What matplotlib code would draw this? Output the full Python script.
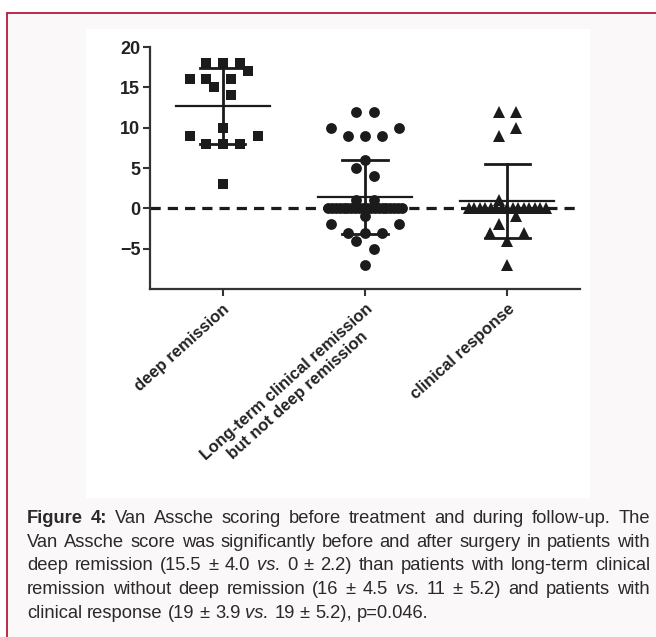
import numpy as np
import matplotlib
matplotlib.use("Agg")
import matplotlib.pyplot as plt
from matplotlib.patches import Rectangle

plt.rcParams['font.family'] = ['Liberation Sans', 'DejaVu Sans']

W, H = 656, 637

# --- data ---
categories = ['deep remission',
              'Long-term clinical remission\nbut not deep remission',
              'clinical response']

deep_vals = [18, 18, 18, 17, 16, 16, 16, 15, 14, 10, 9, 9, 8, 8, 8, 3]
deep_offs = [-0.12, 0, 0.12, 0.18, -0.23, -0.12, 0.06, -0.06, 0.06, 0, -0.23, 0.245, -0.12, 0, 0.12, 0]

mid_vals = [12, 12, 10, 10, 9, 9, 9, 6, 5, 4, 1, 1] + [0] * 20 + [-1, -2, -2, -3, -3, -3, -4, -5, -7]
mid_offs = ([-0.06, 0.06, -0.24, 0.24, -0.12, 0, 0.12, 0, -0.06, 0.06, -0.06, 0.06]
            + list(np.linspace(-0.26, 0.26, 20))
            + [0, -0.24, 0.24, -0.12, 0, 0.12, -0.06, 0.06, 0])

resp_vals = [12, 12, 10, 9, 1] + [0] * 15 + [-1, -2, -3, -3, -4, -7]
resp_offs = ([-0.06, 0.06, 0.06, -0.06, -0.06]
             + list(np.linspace(-0.27, 0.27, 15))
             + [0.06, -0.06, -0.12, 0.12, 0, 0])

groups = [(deep_vals, deep_offs, 's', 7.9),
          (mid_vals, mid_offs, 'o', 7.8),
          (resp_vals, resp_offs, '^', 8.4)]

caption_lines = [
    [("Figure 4:", 'bold'), ("Van Assche scoring before treatment and during follow-up. The", 'normal')],
    [("Van Assche score was significantly before and after surgery in patients with", 'normal')],
    [("deep remission (15.5 ± 4.0", 'normal'), ("vs.", 'italic'), ("0 ± 2.2) than patients with long-term clinical", 'normal')],
    [("remission without deep remission (16 ± 4.5", 'normal'), ("vs.", 'italic'), ("11 ± 5.2) and patients with", 'normal')],
    [("clinical response (19 ± 3.9", 'normal'), ("vs.", 'italic'), ("19 ± 5.2), p=0.046.", 'normal')],
]

ink = '#1b1b1b'

fig = plt.figure(figsize=(W / 100, H / 100), dpi=100)
fig.patch.set_facecolor('white')


def fx(px):
    return px / W


def fy(py):
    return 1 - py / H


# frame with red border and pale background (top-left corner at 7,13)
fig.patches.append(Rectangle((fx(7), fy(700)), fx(700), (700 - 13) / H, transform=fig.transFigure,
                             facecolor='#faf8f9', edgecolor='#b8173c', linewidth=1.3, zorder=0))
# white panel behind the chart
fig.patches.append(Rectangle((fx(86), fy(498)), fx(590 - 86), (498 - 29) / H, transform=fig.transFigure,
                             facecolor='white', edgecolor='none', zorder=0.5))

ax = fig.add_axes([fx(150), fy(289), fx(580 - 150), (289 - 47) / H])
ax.set_zorder(2)
ax.set_facecolor('none')

for i, (vals, offs, mk, ms) in enumerate(groups):
    xpos = i + 1
    vals = np.array(vals, dtype=float)
    offs = np.array(offs, dtype=float)
    ax.plot(xpos + offs, vals, linestyle='none', marker=mk, markersize=ms,
            color=ink, markeredgewidth=0, zorder=3)
    m = vals.mean()
    sd = vals.std(ddof=1)
    ax.plot([xpos - 0.33, xpos + 0.33], [m, m], color=ink, lw=1.6, zorder=4)
    ax.plot([xpos, xpos], [m - sd, m + sd], color=ink, lw=2.0, zorder=4)
    for e in (m - sd, m + sd):
        ax.plot([xpos - 0.16, xpos + 0.16], [e, e], color=ink, lw=2.0, zorder=4)

ax.axhline(0, color=ink, lw=2.3, linestyle=(0, (3.2, 2.2)), zorder=2)

ax.set_xlim(0.49, 3.51)
ax.set_ylim(-10, 20)
ax.set_yticks([-5, 0, 5, 10, 15, 20])
ax.set_xticks([1, 2, 3])
ax.set_xticklabels(categories, rotation=42, ha='right', va='top',
                   rotation_mode='anchor', multialignment='center',
                   fontsize=12, fontweight='bold', color='#222222')
for lab in ax.get_yticklabels():
    lab.set_fontsize(13)
    lab.set_fontweight('bold')
    lab.set_color('#222222')
ax.tick_params(axis='both', direction='out', length=5, width=1.5, color='#333333', pad=2)
ax.tick_params(axis='x', pad=4)
for s in ('top', 'right'):
    ax.spines[s].set_visible(False)
for s in ('left', 'bottom'):
    ax.spines[s].set_linewidth(1.6)
    ax.spines[s].set_color('#333333')

# caption, justified between two edges
left_px, right_px = 27, 650
base_y = [523, 547, 570, 594, 618]
fs = 13.2
fig.canvas.draw()
renderer = fig.canvas.get_renderer()
for li, segs in enumerate(caption_lines):
    words = []
    for text, style in segs:
        for w in text.split(' '):
            words.append((w, style))
    arts = []
    for w, style in words:
        t = fig.text(0, fy(base_y[li]), w, fontsize=fs, color='#2a2a2a',
                     fontweight='bold' if style == 'bold' else 'normal',
                     fontstyle='italic' if style == 'italic' else 'normal',
                     va='baseline', ha='left')
        arts.append(t)
    widths = [a.get_window_extent(renderer).width for a in arts]
    t1 = fig.text(0, 0, 'a b', fontsize=fs)
    t2 = fig.text(0, 0, 'ab', fontsize=fs)
    space = t1.get_window_extent(renderer).width - t2.get_window_extent(renderer).width
    t1.remove()
    t2.remove()
    total = sum(widths)
    if li < len(caption_lines) - 1:
        gap = (right_px - left_px - total) / (len(arts) - 1)
    else:
        gap = space
    x = left_px
    for a, w in zip(arts, widths):
        a.set_x(fx(x))
        x += w + gap

fig.savefig('out.png', dpi=100, facecolor=fig.get_facecolor())
